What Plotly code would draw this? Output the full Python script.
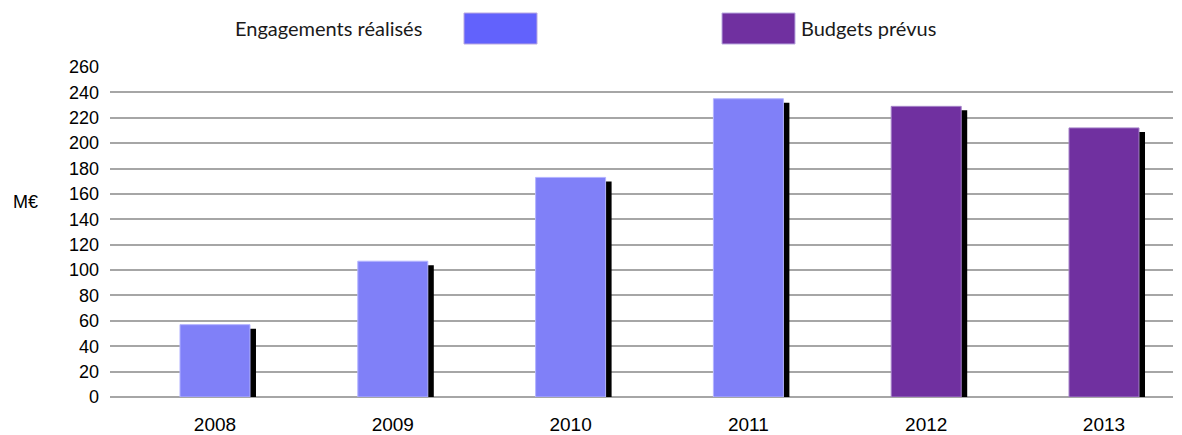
import plotly.graph_objects as go

# Annual amounts in millions of euros
years = [2008, 2009, 2010, 2011, 2012, 2013]
values = [57, 107, 173, 235, 229, 212]
kinds = ["Engagements réalisés"] * 4 + ["Budgets prévus"] * 2

y_ticks = list(range(0, 261, 20))

BAR_COLORS = {"Engagements réalisés": "#8080F8", "Budgets prévus": "#7030A0"}
EDGE_COLORS = {"Engagements réalisés": "#B4B4FF", "Budgets prévus": "#A583C8"}
SWATCH_COLORS = {"Engagements réalisés": "#6262FC", "Budgets prévus": "#7030A0"}

W, H = 1182, 435
M_L, M_R, M_T, M_B = 110, 9, 67, 38
plot_w = W - M_L - M_R
plot_h = H - M_T - M_B

x_range = [2007.4095, 2013.388]
px_per_year = plot_w / (x_range[1] - x_range[0])
bar_w = 70 / px_per_year
shadow_dx = 6 / px_per_year
shadow_dy = 4 * 260 / plot_h

fig = go.Figure()

# Drop shadow behind each bar
fig.add_trace(go.Bar(
    x=years, y=values, base=[-shadow_dy] * len(values),
    width=bar_w, offset=-bar_w / 2 + shadow_dx,
    marker=dict(color="#000000", line=dict(width=0)),
    showlegend=False, hoverinfo="skip",
))

fig.add_trace(go.Bar(
    x=years, y=values,
    width=bar_w, offset=-bar_w / 2,
    marker=dict(color=[BAR_COLORS[k] for k in kinds],
                line=dict(color=[EDGE_COLORS[k] for k in kinds], width=1)),
    showlegend=False,
))


def px_x(p):
    return (p - M_L) / plot_w


def px_y(p):
    return (H - M_B - p) / plot_h


shapes = []
annotations = []

# Legend entries: text on the left of the first swatch, on the right of the second
for x0, x1, kind in [(464, 537, "Engagements réalisés"), (722, 795, "Budgets prévus")]:
    shapes.append(dict(type="rect", xref="paper", yref="paper",
                       x0=px_x(x0), x1=px_x(x1), y0=px_y(44), y1=px_y(13),
                       fillcolor=SWATCH_COLORS[kind], line=dict(color="#B9A8E0", width=1)))

annotations.append(dict(xref="paper", yref="paper", x=px_x(424), y=px_y(28),
                        text="Engagements réalisés", showarrow=False,
                        xanchor="right", yanchor="middle",
                        font=dict(family="Lato", size=20, color="#1a1a1a")))
annotations.append(dict(xref="paper", yref="paper", x=px_x(799), y=px_y(28),
                        text="Budgets prévus", showarrow=False,
                        xanchor="left", yanchor="middle",
                        font=dict(family="Lato", size=20, color="#1a1a1a")))
annotations.append(dict(xref="paper", yref="paper", x=px_x(11), y=px_y(202),
                        text="M€", showarrow=False,
                        xanchor="left", yanchor="middle",
                        font=dict(family="Liberation Sans", size=18, color="#000000")))

fig.update_layout(
    width=W, height=H,
    margin=dict(l=M_L, r=M_R, t=M_T, b=M_B, autoexpand=False),
    paper_bgcolor="white", plot_bgcolor="white",
    barmode="overlay",
    shapes=shapes, annotations=annotations,
    xaxis=dict(range=x_range, tickvals=years, ticktext=[str(y) for y in years],
               showgrid=False, zeroline=False, showline=False, ticks="",
               automargin=False, ticklabelstandoff=14,
               tickfont=dict(family="Liberation Sans", size=19, color="#000000")),
    yaxis=dict(range=[0, 260], tickvals=y_ticks, showgrid=True,
               gridcolor="#A6A6A6", gridwidth=2, zeroline=True,
               zerolinecolor="#A6A6A6", zerolinewidth=2, showline=False, ticks="",
               automargin=False, ticklabelstandoff=10,
               tickfont=dict(family="Liberation Sans", size=18, color="#000000")),
    font=dict(family="Liberation Sans"),
)

fig.write_html("out.html")
